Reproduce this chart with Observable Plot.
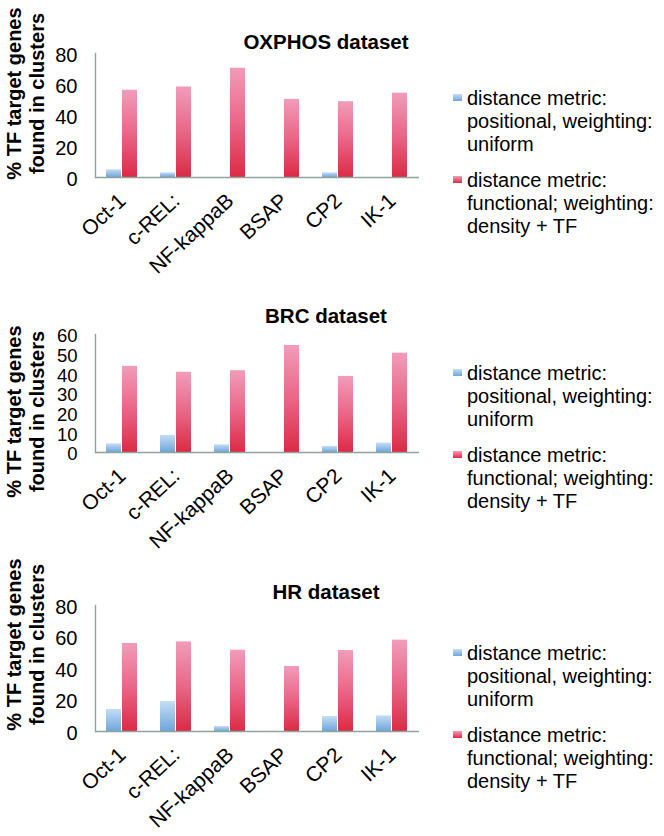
<!DOCTYPE html>
<html><head><meta charset="utf-8">
<script src="https://cdn.jsdelivr.net/npm/d3@7"></script>
<script src="https://cdn.jsdelivr.net/npm/@observablehq/plot@0.6"></script>
<style>
body{margin:0;background:#fff;font-family:"Liberation Sans",Arial,sans-serif;}
#root{position:relative;width:664px;height:836px;overflow:hidden;background:#fff;}
.abs{position:absolute;}
.title{font-weight:bold;font-size:20.5px;line-height:24px;white-space:nowrap;transform:translateX(-50%);color:#000;}
.ylab{font-weight:bold;font-size:20px;line-height:22.5px;width:220px;height:45px;text-align:center;transform:rotate(-90deg);white-space:nowrap;color:#000;}
.leg{font-size:20px;line-height:23px;color:#000;white-space:nowrap;}
.sw{position:absolute;width:9px;height:7px;}
svg.plot{position:absolute;left:0;overflow:visible;}
</style></head>
<body>
<svg width="0" height="0" style="position:absolute"><defs>
<linearGradient id="gradPink" x1="0" y1="0" x2="0" y2="1"><stop offset="0" stop-color="#f29cba"/><stop offset="0.5" stop-color="#ea6687"/><stop offset="1" stop-color="#dc2a45"/></linearGradient>
<linearGradient id="gradBlue" x1="0" y1="0" x2="0" y2="1"><stop offset="0" stop-color="#c4def5"/><stop offset="1" stop-color="#6ea6dc"/></linearGradient>
</defs></svg>
<div id="root"></div>
<script>
// ---- data ----
const categories = ["Oct-1", "c-REL:", "NF-kappaB", "BSAP", "CP2", "IK-1"];
const seriesNames = ["distance metric: positional, weighting: uniform", "distance metric: functional; weighting: density + TF"];
const legendLines = [["distance metric:", "positional, weighting:", "uniform"], ["distance metric:", "functional; weighting:", "density + TF"]];
const panelTitles = ["OXPHOS dataset", "BRC dataset", "HR dataset"];
const yLabelLines = ["% TF target genes", "found in clusters"];

const oxphosPositional = [5, 3, 0, 0, 3, 0];
const oxphosFunctional = [56.3, 58.4, 70.5, 50.4, 48.9, 54.4];
const brcPositional = [4.4, 8.7, 3.9, 0, 3.1, 4.8];
const brcFunctional = [43.8, 40.8, 41.6, 54.4, 38.7, 50.5];
const hrPositional = [14.0, 19.0, 3.2, 0, 9.5, 9.9];
const hrFunctional = [55.9, 56.9, 51.6, 41.3, 51.4, 58.0];

const oxphosTicks = [0, 20, 40, 60, 80];
const brcTicks = [0, 10, 20, 30, 40, 50, 60];
const hrTicks = [0, 20, 40, 60, 80];

// ---- layout (positions / styles) ----
const FONT = "'Liberation Sans', Arial, sans-serif";
const AXIS = "#8fa39d";
const panels = [
  {title: panelTitles[0], pos: oxphosPositional, fun: oxphosFunctional, ticks: oxphosTicks, tickFont: 20,
   top: 0, h: 270, mt: 53, mb: 93, titleTop: 29.5, ylabY: 93, legTop: 86.75},
  {title: panelTitles[1], pos: brcPositional, fun: brcFunctional, ticks: brcTicks, tickFont: 18.5,
   top: 270, h: 270, mt: 64, mb: 88, titleTop: 303.5, ylabY: 411, legTop: 361.75},
  {title: panelTitles[2], pos: hrPositional, fun: hrFunctional, ticks: hrTicks, tickFont: 20,
   top: 540, h: 296, mt: 65, mb: 105, titleTop: 579.5, ylabY: 644, legTop: 641.75}
];

const root = document.getElementById("root");

function addDiv(cls, css, html) {
  const d = document.createElement("div");
  d.className = cls;
  Object.assign(d.style, css);
  if (html !== undefined) d.innerHTML = html;
  root.appendChild(d);
  return d;
}

for (const p of panels) {
  const rows = categories.flatMap((c, i) => [
    {cat: c, series: seriesNames[0], value: p.pos[i]},
    {cat: c, series: seriesNames[1], value: p.fun[i]}
  ]);
  const yMax = p.ticks[p.ticks.length - 1];
  const svg = Plot.plot({
    width: 440,
    height: p.h,
    marginLeft: 94,
    marginRight: 20,
    marginTop: p.mt,
    marginBottom: p.mb,
    style: {fontFamily: FONT, background: "transparent", overflow: "visible"},
    fx: {domain: categories, padding: 0, label: null},
    x: {domain: seriesNames, paddingInner: 0.06, paddingOuter: 0.63, axis: null},
    y: {domain: [0, yMax], label: null},
    marks: [
      Plot.barY(rows.filter(d => d.series === seriesNames[0]), {fx: "cat", x: "series", y: "value", fill: "url(#gradBlue)"}),
      Plot.barY(rows.filter(d => d.series === seriesNames[1]), {fx: "cat", x: "series", y: "value", fill: "url(#gradPink)"}),
      Plot.ruleY([0], {stroke: AXIS, strokeWidth: 1.4}),
      Plot.frame({anchor: "left", facetAnchor: "left", stroke: AXIS, strokeWidth: 1.4}),
      Plot.axisY(p.ticks, {tickSize: 0, tickPadding: 18, fontSize: p.tickFont, label: null, dy: 2}),
      Plot.axisFx({anchor: "bottom", tickRotate: -43, tickSize: 0, tickPadding: 20, fontSize: 21, label: null})
    ]
  });
  svg.classList.add("plot");
  svg.style.top = p.top + "px";
  root.appendChild(svg);

  addDiv("abs title", {left: "326px", top: p.titleTop + "px"}, p.title);
  addDiv("abs ylab", {left: (25.3 - 110) + "px", top: (p.ylabY - 22.5) + "px"}, yLabelLines.join("<br>"));

  const grads = ["linear-gradient(#c4def5,#6ea6dc)", "linear-gradient(#f29cba,#dc2a45)"];
  legendLines.forEach((lines, k) => {
    const top = p.legTop + k * 82;
    addDiv("sw", {left: "453px", top: (top + 7.25) + "px", background: grads[k]});
    addDiv("abs leg", {left: "467px", top: top + "px"}, lines.join("<br>"));
  });
}
</script>
</body></html>
